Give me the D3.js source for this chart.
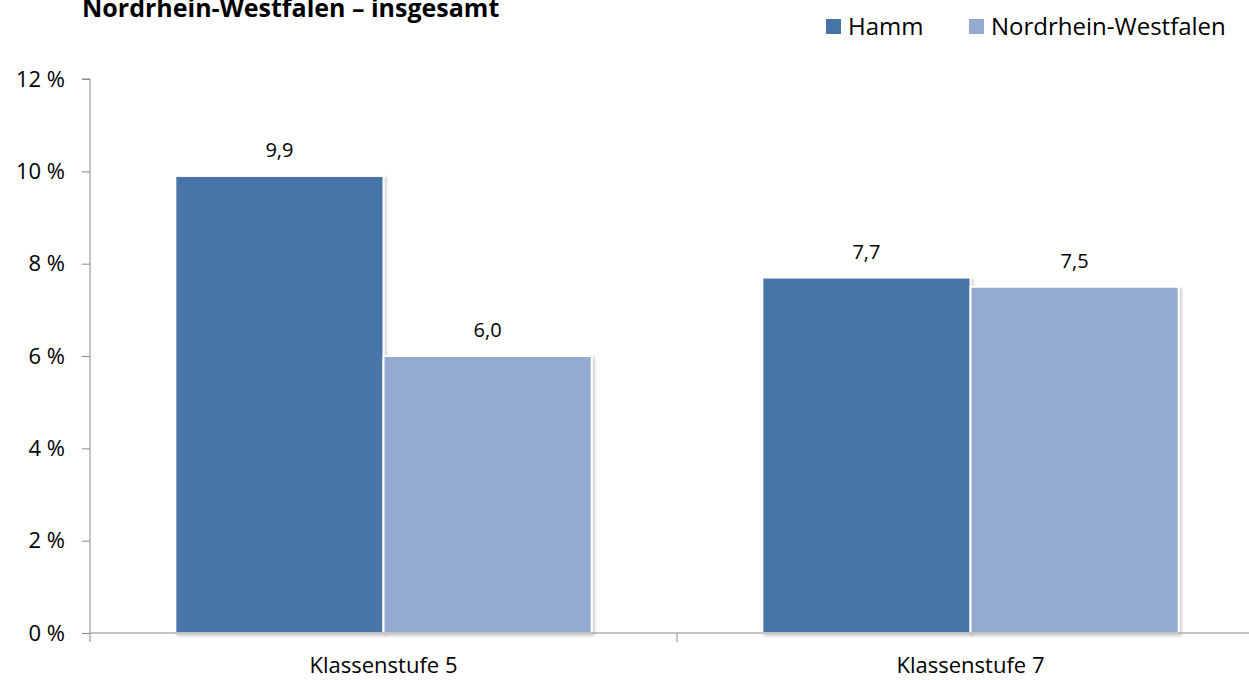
<!DOCTYPE html>
<html>
<head>
<meta charset="utf-8">
<script src="https://cdn.jsdelivr.net/npm/d3@7"></script>
<style>
  body { margin: 0; background: #fff; }
  svg { display: block; font-family: "Open Sans", "Noto Sans", sans-serif; }
</style>
</head>
<body>
<svg id="chart" width="1249" height="680"></svg>
<script>
var categories = ["Klassenstufe 5", "Klassenstufe 7"];
var seriesNames = ["Hamm", "Nordrhein-Westfalen"];
var hammValues = [9.9, 7.7];
var nrwValues = [6.0, 7.5];
var yTicks = [0, 2, 4, 6, 8, 10, 12];
var colors = ["#4674a7", "#95aad1"];

var svg = d3.select("#chart");
var margin = { left: 90, top: 79, bottom: 633, right: 1264 };

var x = d3.scaleBand()
  .domain(categories)
  .range([margin.left, margin.right])
  .paddingInner(0)
  .paddingOuter(0);

var xInner = d3.scaleBand()
  .domain(seriesNames)
  .range([0, x.bandwidth()])
  .paddingOuter(0.41)
  .paddingInner(0);

var y = d3.scaleLinear()
  .domain([0, 12])
  .range([margin.bottom, margin.top]);

// soft shadow behind the bars
var defs = svg.append("defs");
var filter = defs.append("filter").attr("id", "shadow")
  .attr("x", "-10%").attr("y", "-10%").attr("width", "120%").attr("height", "120%");
filter.append("feDropShadow")
  .attr("dx", 2).attr("dy", 2).attr("stdDeviation", 1.5)
  .attr("flood-color", "#000").attr("flood-opacity", 0.2);

// title, cut off at the top like the original
svg.append("text")
  .attr("x", 82)
  .attr("y", 17)
  .attr("font-size", 25)
  .attr("font-weight", "bold")
  .attr("fill", "#000")
  .text("Nordrhein-Westfalen – insgesamt");

// legend
var legendPos = [826, 969];
var legend = svg.append("g").attr("class", "legend");
seriesNames.forEach(function(name, i) {
  legend.append("rect")
    .attr("x", legendPos[i]).attr("y", 19)
    .attr("width", 15).attr("height", 15)
    .attr("fill", colors[i]);
  legend.append("text")
    .attr("x", legendPos[i] + 22).attr("y", 35)
    .attr("font-size", 24)
    .attr("fill", "#000")
    .text(name);
});

// y axis
var yAxis = svg.append("g")
  .attr("transform", "translate(" + margin.left + ",0)")
  .call(d3.axisLeft(y).tickValues(yTicks).tickSize(8).tickPadding(17)
    .tickFormat(function(d) { return d + " %"; }));
yAxis.select(".domain").attr("stroke", "#888").attr("d", "M-8," + y(12) + "H0V" + y(0));
yAxis.selectAll(".tick line").attr("stroke", "#888");
yAxis.selectAll(".tick text").attr("font-size", 22).attr("fill", "#000")
  .attr("font-family", "\"Open Sans\", sans-serif");

// bars
var data = [];
categories.forEach(function(c, i) {
  data.push({ cat: c, series: seriesNames[0], value: hammValues[i], color: colors[0] });
  data.push({ cat: c, series: seriesNames[1], value: nrwValues[i], color: colors[1] });
});

var bars = svg.append("g").attr("class", "bars");
bars.selectAll("rect")
  .data(data)
  .enter().append("rect")
  .attr("x", function(d) { return x(d.cat) + xInner(d.series); })
  .attr("y", function(d) { return y(d.value); })
  .attr("width", xInner.bandwidth())
  .attr("height", function(d) { return y(0) - y(d.value); })
  .attr("fill", function(d) { return d.color; })
  .attr("stroke", "#fff")
  .attr("stroke-width", 2)
  .attr("filter", "url(#shadow)");

bars.selectAll("text")
  .data(data)
  .enter().append("text")
  .attr("x", function(d) { return x(d.cat) + xInner(d.series) + xInner.bandwidth() / 2; })
  .attr("y", function(d) { return y(d.value) - 19; })
  .attr("text-anchor", "middle")
  .attr("font-size", 20)
  .attr("fill", "#000")
  .text(function(d) { return d3.format(".1f")(d.value).replace(".", ","); });

// x axis
var xAxisG = svg.append("g").attr("transform", "translate(0," + y(0) + ")");
xAxisG.append("line")
  .attr("x1", margin.left).attr("x2", margin.right)
  .attr("stroke", "#888");
xAxisG.selectAll(".xtick")
  .data(categories)
  .enter().append("line")
  .attr("x1", function(d) { return x(d); })
  .attr("x2", function(d) { return x(d); })
  .attr("y1", 0).attr("y2", 9)
  .attr("stroke", "#888");
xAxisG.selectAll(".xlabel")
  .data(categories)
  .enter().append("text")
  .attr("x", function(d) { return x(d) + x.bandwidth() / 2; })
  .attr("y", 40)
  .attr("text-anchor", "middle")
  .attr("font-size", 22)
  .attr("fill", "#000")
  .text(function(d) { return d; });
</script>
</body>
</html>
